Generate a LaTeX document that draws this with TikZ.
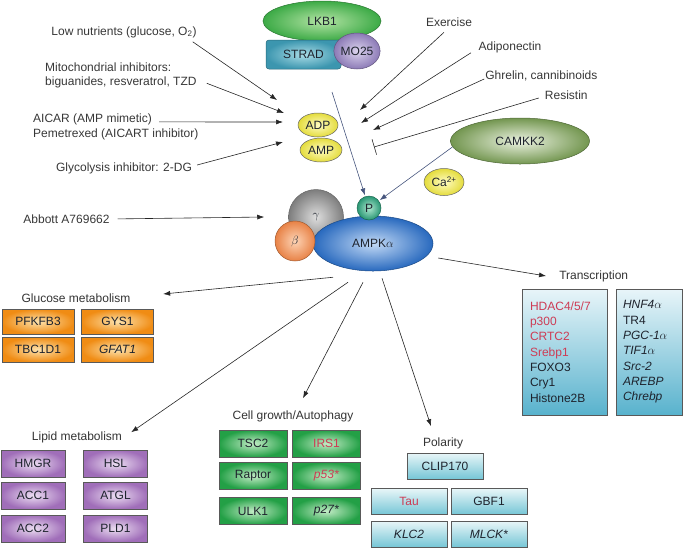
\documentclass[tikz,border=0pt]{standalone}
\usepackage{fontspec}
\setmainfont{Liberation Sans}
\usetikzlibrary{arrows.meta,shapes.geometric}
\definecolor{labelgray}{RGB}{55,55,55}
\definecolor{inkdark}{RGB}{30,35,45}
\definecolor{kinline}{RGB}{70,85,125}
\definecolor{genered}{RGB}{205,60,85}
\definecolor{lkbout}{RGB}{60,170,70}
\definecolor{lkbin}{RGB}{180,228,165}
\definecolor{stradout}{RGB}{60,150,175}
\definecolor{stradin}{RGB}{170,220,230}
\definecolor{moout}{RGB}{140,122,182}
\definecolor{moin}{RGB}{220,212,238}
\definecolor{nucout}{RGB}{228,220,60}
\definecolor{nucin}{RGB}{255,252,195}
\definecolor{camout}{RGB}{115,150,80}
\definecolor{camin}{RGB}{236,243,226}
\definecolor{gamout}{RGB}{125,125,125}
\definecolor{gamin}{RGB}{222,222,222}
\definecolor{betout}{RGB}{232,130,70}
\definecolor{betin}{RGB}{253,212,182}
\definecolor{alfout}{RGB}{40,105,190}
\definecolor{alfin}{RGB}{195,218,246}
\definecolor{phout}{RGB}{40,150,115}
\definecolor{phin}{RGB}{175,232,208}
\definecolor{gluout}{RGB}{240,140,20}
\definecolor{gluin}{RGB}{253,226,172}
\definecolor{lipout}{RGB}{160,110,185}
\definecolor{lipin}{RGB}{236,222,242}
\definecolor{cellout}{RGB}{35,160,70}
\definecolor{cellin}{RGB}{195,236,198}
\definecolor{poltop}{RGB}{232,246,248}
\definecolor{polbot}{RGB}{118,198,214}
\definecolor{trtop}{RGB}{232,245,249}
\definecolor{trbot}{RGB}{88,178,205}
\begin{document}
\begin{tikzpicture}[x=1pt,y=-1pt,
    every node/.style={font=\fontsize{12}{14}\selectfont},
    lbl/.style={text=labelgray,inner sep=0pt},
    cat/.style={text=black!80,inner sep=0pt},
    arr/.style={-{Latex[length=7pt,width=5pt]},line width=0.6pt,black!85},
    kin/.style={arr,kinline,shorten >=1pt},
    blob/.style={ellipse,inner sep=0pt,line width=0.5pt,text=inkdark},
    ball/.style={circle,inner sep=0pt,line width=0.5pt,text=inkdark},
    box/.style={rectangle,inner sep=0pt,line width=0.5pt,draw=black!65,text=inkdark},
    glubox/.style={box,minimum width=72pt,minimum height=25pt,inner color=gluin,outer color=gluout},
    lipbox/.style={box,minimum width=64pt,minimum height=27pt,inner color=lipin,outer color=lipout},
    cellbox/.style={box,minimum width=68pt,minimum height=27pt,inner color=cellin,outer color=cellout},
    polbox/.style={box,minimum width=76pt,minimum height=26pt,top color=poltop,bottom color=polbot},
    trbox/.style={box,minimum height=126pt,align=left,inner xsep=8pt,top color=trtop,bottom color=trbot,font=\fontsize{12}{15.3}\selectfont}]
    \useasboundingbox (0,0) rectangle (700,547);

    \node (lkb) [blob,draw=lkbout!70!black,inner color=lkbin,outer color=lkbout,minimum width=118pt,minimum height=40pt] at (322,21) {LKB1};
    \node (strad) [box,draw=stradout!70!black,rounded corners=3pt,inner color=stradin,outer color=stradout,minimum width=75pt,minimum height=29pt] at (303.5,54.5) {STRAD\hspace{7pt}};
    \node (mo) [blob,draw=moout!70!black,inner color=moin,outer color=moout,minimum width=46pt,minimum height=36pt] at (357,51) {MO25};
    \node (adp) [blob,draw=black!60,inner color=nucin,outer color=nucout,minimum width=40pt,minimum height=24pt] at (318,125) {ADP};
    \node (amp) [blob,draw=black!60,inner color=nucin,outer color=nucout,minimum width=42pt,minimum height=24pt] at (321,150) {AMP};
    \node (camkk) [blob,draw=camout!70!black,inner color=camin,outer color=camout,minimum width=139pt,minimum height=46pt] at (520,141) {CAMKK2};
    \node (ca) [blob,draw=black!60,inner color=nucin,outer color=nucout,minimum width=40pt,minimum height=27pt] at (444,182) {Ca\textsuperscript{2+}};
    \node (gamma) [ball,draw=black!60,inner color=gamin,outer color=gamout,minimum size=55pt] at (316,217) {$\gamma$};
    \node (ampk) [blob,draw=alfout!70!black,inner color=alfin,outer color=alfout,minimum width=120pt,minimum height=55pt] at (373,243.5) {AMPK$\alpha$};
    \node (beta) [ball,draw=betout!70!black,inner color=betin,outer color=betout,minimum size=40pt] at (295,241) {$\beta$};
    \node (phos) [ball,draw=phout!70!black,inner color=phin,outer color=phout,minimum size=24pt] at (369,208) {P};

    \node (low) [lbl] at (124,32) {Low nutrients (glucose, O\textsubscript{2})};
    \node (mito) [lbl,anchor=west,align=left] at (45,75) {Mitochondrial inhibitors:\\biguanides, resveratrol, TZD};
    \node (aicar) [lbl,anchor=west,align=left] at (33,126.4) {AICAR (AMP mimetic)\\[1pt]Pemetrexed (AICART inhibitor)};
    \node (glyco) [lbl] at (124,168) {Glycolysis inhibitor: 2-DG};
    \node (abbott) [lbl] at (66.5,219) {Abbott A769662};
    \node (exer) [lbl] at (449,22.7) {Exercise};
    \node (adipo) [lbl] at (510,47) {Adiponectin};
    \node (ghrelin) [lbl] at (541.4,75.5) {Ghrelin, cannibinoids};
    \node (resist) [lbl] at (566.3,95.7) {Resistin};

    \coordinate (toLow) at (277,100);
    \coordinate (toMito) at (284,113);
    \coordinate (toAicar) at (283,122);
    \coordinate (toGlyco) at (283,142);
    \coordinate (toExer) at (360,110);
    \coordinate (toAdipo) at (361,123);
    \coordinate (toGhrelin) at (373,130);
    \coordinate (toResist) at (374,147);
    \coordinate (lkbGo) at (332,92);

    \draw[arr] ([shift={(-4,4)}]low.south east) -- (toLow);
    \draw[arr] ([shift={(10,-4.5)}]mito.south east) -- (toMito);
    \draw[arr] ([shift={(126,8.8)}]aicar.north west) -- (toAicar);
    \draw[arr] ([shift={(5,-3)}]glyco.east) -- (toGlyco);
    \draw[arr,shorten <=8pt] (abbott.east) -- ([xshift=-24pt]gamma.west);
    \draw[arr] ([shift={(-5,5)}]exer.south) -- (toExer);
    \draw[arr] ([shift={(-7.5,0)}]adipo.south west) -- (toAdipo);
    \draw[arr] ([shift={(-1,3.5)}]ghrelin.west) -- (toGhrelin);
    \draw[line width=0.6pt,black!85,-{Bar[width=16pt]}] ([shift={(-6,2.3)}]resist.west) -- (toResist);
    \draw[kin] (lkbGo) -- (phos);
    \draw[kin] (camkk.185) -- (phos);

    \node (glutitle) [cat] at (76,298) {Glucose metabolism};
    \node (liptitle) [cat] at (77,437) {Lipid metabolism};
    \node (celltitle) [cat] at (293,416) {Cell growth/Autophagy};
    \node (poltitle) [cat] at (443,443) {Polarity};
    \node (trtitle) [cat] at (593.7,276) {Transcription};

    \draw[arr] ([shift={(-40,6)}]ampk.south) -- ([shift={(32.6,-4)}]glutitle.east);
    \draw[arr] ([shift={(-25,11)}]ampk.south) -- ([shift={(9,1)}]liptitle.north east);
    \draw[arr] ([shift={(-10,11)}]ampk.south) -- ([shift={(10,-12)}]celltitle.north);
    \draw[arr] ([shift={(9,7)}]ampk.south) -- ([shift={(-12,-11)}]poltitle.north);
    \draw[arr] ([shift={(5,14.5)}]ampk.east) -- ([xshift=-13pt]trtitle.west);

    \node (pfkfb) [glubox] at (38,321.5) {PFKFB3};
    \node (gys) [glubox] at (117.5,321.5) {GYS1};
    \node (tbc) [glubox] at (38,349.5) {TBC1D1};
    \node (gfat) [glubox] at (117.5,349.5) {\textit{GFAT1}};

    \node (hmgr) [lipbox] at (33,463.5) {HMGR};
    \node (hsl) [lipbox] at (115.5,463.5) {HSL};
    \node (acc1) [lipbox] at (33,495.5) {ACC1};
    \node (atgl) [lipbox] at (115.5,495.5) {ATGL};
    \node (acc2) [lipbox] at (33,528.5) {ACC2};
    \node (pld) [lipbox] at (115.5,528.5) {PLD1};

    \node (tsc) [cellbox] at (253,443.5) {TSC2};
    \node (irs) [cellbox] at (326.5,443.5) {\textcolor{genered}{IRS1}};
    \node (raptor) [cellbox] at (253,476) {Raptor};
    \node (p53) [cellbox] at (326.5,476) {\textcolor{genered}{\textit{p53*}}};
    \node (ulk) [cellbox] at (253,511) {ULK1};
    \node (p27) [cellbox] at (326.5,511) {\textit{p27*}};

    \node (clip) [polbox] at (445,466) {CLIP170};
    \node (tau) [polbox] at (409,501.5) {\textcolor{genered}{Tau}};
    \node (gbf) [polbox] at (489,501.5) {GBF1};
    \node (klc) [polbox] at (409,534) {\textit{KLC2}};
    \node (mlck) [polbox] at (489,534) {\textit{MLCK*}};

    \node (trleft) [trbox,text width=69pt] at (564.5,352) {\textcolor{genered}{HDAC4/5/7}\\\textcolor{genered}{p300}\\\textcolor{genered}{CRTC2}\\\textcolor{genered}{Srebp1}\\FOXO3\\Cry1\\Histone2B};
    \node (trright) [trbox,text width=52pt,inner xsep=7pt] at (649,352) {\textit{HNF4}$\alpha$\\TR4\\\textit{PGC-1}$\alpha$\\\textit{TIF1}$\alpha$\\\textit{Src-2}\\\textit{AREBP}\\\textit{Chrebp}};
\end{tikzpicture}
\end{document}
